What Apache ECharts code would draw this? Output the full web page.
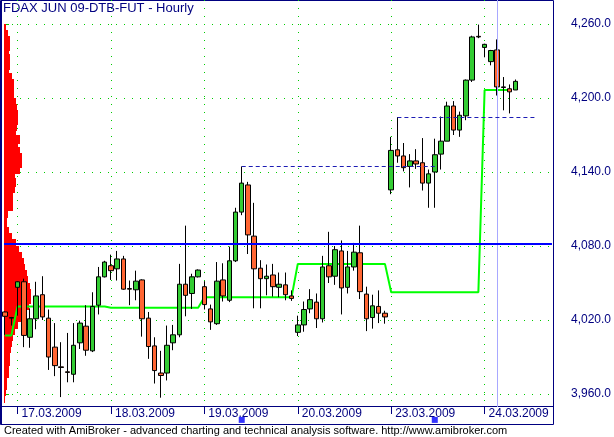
<!DOCTYPE html>
<html>
<head>
<meta charset="utf-8">
<title>FDAX JUN 09-DTB-FUT - Hourly</title>
<script src="https://cdn.jsdelivr.net/npm/echarts@6/dist/echarts.min.js"></script>
<style>
  html, body { margin: 0; padding: 0; background: #fff; }
  #chart { width: 614px; height: 437px; }
</style>
</head>
<body>
<div id="chart"></div>
<script>
// trading sessions: day, first hour, last hour (24.03 padded with the empty hours)
const sessions = [
  ["16.03.2009", 21, 22],
  ["17.03.2009", 8, 22],
  ["18.03.2009", 8, 22],
  ["19.03.2009", 8, 22],
  ["20.03.2009", 8, 22],
  ["23.03.2009", 8, 22],
  ["24.03.2009", 8, 19]
];
const categories = [];
sessions.forEach(([day, from, to]) => {
  for (let h = from; h <= to; h++) categories.push(day + " " + String(h).padStart(2, "0") + ":00");
});

// hourly bars
const open = [4026.5, 4022, 4046.5, 4051, 4006, 4021, 4040.5, 4021.5, 3998, 3982, 3978, 3976, 4001.5, 4015, 3995, 4032, 4055,
  4064, 4061.5, 4069.5, 4045.5, 4044.5, 4052.5, 4021.5, 3999, 3977, 3977, 4001.5, 4008, 4049, 4041.5, 4055,
  4047, 4029, 4017, 4052.5, 4036, 4068, 4107.5, 4129.5, 4088, 4062, 4053.5, 4056.5, 4046.5, 4048.5, 4039.5,
  4010, 4016, 4029, 4034.5, 4021, 4064, 4055.5, 4076, 4046.5, 4063, 4074.5, 4041, 4022, 4031, 4025.5,
  4125.5, 4158, 4153, 4144.5, 4149, 4147.5, 4131, 4140, 4154.5, 4165, 4193.5, 4174, 4185.5, 4214.5, 4250,
  4241, 4229.5, 4239, 4209, 4207.5, 4206.5];
const high = [4027, 4022.5, 4051.5, 4053.5, 4029.5, 4051, 4055.5, 4028.5, 4017.5, 4002, 4009.5, 4017.5, 4019.5, 4032, 4042.5, 4063, 4068,
  4073, 4076, 4072, 4052, 4060, 4053, 4026.5, 4006, 3995, 4015.5, 4016, 4065.5, 4096.5, 4057.5, 4061,
  4051.5, 4032.5, 4067, 4066, 4079.5, 4111, 4144.5, 4132, 4115, 4068.5, 4065, 4065.5, 4058.5, 4058.5, 4044,
  4023.5, 4035, 4045, 4041.5, 4072, 4091.5, 4080, 4084.5, 4076, 4082.5, 4096.5, 4047, 4040.5, 4044, 4027.5,
  4168.5, 4184.5, 4163.5, 4154.5, 4158.5, 4167.5, 4142, 4167, 4185, 4197, 4197.5, 4189, 4215, 4250.5, 4259.5,
  4244, 4239, 4247.5, 4217, 4211, 4215];
const low = [4008, 4015.5, 4023.5, 3998, 3997.5, 4012.5, 4020, 3979.5, 3974.5, 3957.5, 3969.5, 3969.5, 3996.5, 3991, 3994, 4024.5, 4054.5,
  4052.5, 4052, 4044.5, 4032, 4036, 4006.5, 3988.5, 3968.5, 3957, 3971, 3995.5, 4006, 4023, 4029, 4054.5,
  4028.5, 4012, 4016, 4035, 4034.5, 4067, 4105, 4073.5, 4029.5, 4029.5, 4040, 4039, 4038.5, 4036, 4035.5,
  4007, 4010.5, 4025.5, 4013.5, 4018, 4050, 4048.5, 4024.5, 4041.5, 4060, 4037, 4011, 4013, 4017.5, 4017,
  4122, 4147.5, 4140.5, 4127.5, 4142.5, 4125, 4111, 4111, 4142, 4165, 4170, 4168.5, 4182, 4213, 4248.5,
  4233, 4226.5, 4202, 4190, 4187.5, 4206.5];
const close = [4023, 4021.5, 4051, 4007.5, 4021, 4039.5, 4022.5, 3990, 3983, 3981.5, 3977.5, 3999.5, 4017.5, 3995.5, 4031, 4055, 4067,
  4060, 4069.5, 4045, 4045, 4051.5, 4021, 3998.5, 3979, 3975, 3999.5, 4008, 4049, 4040, 4055, 4060.5,
  4032.5, 4018.5, 4051.5, 4039.5, 4068, 4107.5, 4131, 4089, 4061.5, 4053.5, 4055.5, 4047, 4049, 4040.5, 4037.5,
  4016, 4028.5, 4036.5, 4021, 4063, 4055, 4077, 4046, 4063, 4075, 4043, 4021, 4031.5, 4025.5, 4022.5,
  4157.5, 4153, 4143.5, 4149, 4146.5, 4131, 4138.5, 4154, 4165, 4193.5, 4174, 4186, 4214.5, 4249.5, 4249.5,
  4243.5, 4238.5, 4209, 4208.5, 4205, 4213.5];

// green daily level line
const dailyLevel = [4007.5, 4007.5,
  4031, 4031, 4031, 4031, 4031, 4031, 4031, 4031, 4031, 4031, 4031, 4031, 4031, 4031, 4031,
  4030, 4030, 4030, 4030, 4030, 4030, 4030, 4030, 4030, 4030, 4030, 4030, 4030, 4030, 4030,
  4038.5, 4038.5, 4038.5, 4038.5, 4038.5, 4038.5, 4038.5, 4038.5, 4038.5, 4038.5, 4038.5, 4038.5, 4038.5, 4038.5, 4038.5,
  4065.5, 4065.5, 4065.5, 4065.5, 4065.5, 4065.5, 4065.5, 4065.5, 4065.5, 4065.5, 4065.5, 4065.5, 4065.5, 4065.5, 4065.5,
  4042.5, 4042.5, 4042.5, 4042.5, 4042.5, 4042.5, 4042.5, 4042.5, 4042.5, 4042.5, 4042.5, 4042.5, 4042.5, 4042.5, 4042.5,
  4206.5, 4206.5, 4206.5, 4206.5, 4206.5, null];

// volume at price (bin bottom price, relative volume)
const profileLevel = [4255, 4250, 4245, 4240, 4235, 4230, 4225, 4220, 4215, 4210, 4205, 4200, 4195, 4190, 4185, 4180,
  4175, 4170, 4165, 4160, 4155, 4150, 4145, 4140, 4135, 4130, 4125, 4120, 4115, 4110, 4105, 4100, 4095, 4090,
  4085, 4080, 4075, 4070, 4065, 4060, 4055, 4050, 4045, 4040, 4035, 4030, 4025, 4020, 4015, 4010, 4005, 4000,
  3995, 3990, 3985, 3980, 3975, 3970, 3965, 3960, 3955];
const profileVolume = [2, 4, 6, 6, 5.5, 6.5, 6.5, 5, 8.5, 10, 10, 10, 12.5, 13.5, 14, 14.5,
  13.5, 12.5, 16, 14, 16, 18, 18, 16, 11, 12, 11, 9.5, 9.5, 9.5, 4, 3, 3.5, 5.5,
  8, 12, 15.5, 18, 20, 21.5, 23, 24.5, 26, 27.5, 27, 25, 22, 19, 14, 11, 9, 8,
  7, 6.5, 6, 5.5, 5, 3.5, 3, 2.5, 1.5];

// dashed high lines and the selection markers
const dashedFrom = [38, 63];
const dashedTo = [69, 85];
const dashedPrice = [4144.5, 4184.5];
const markerBars = [38, 69];
const markerPrice = 3939;
const blueLevel = 4081.5;
const selectedBar = 79;
const lastPrice = close[close.length - 1];

const navy = "#000080";
const dotGreen = "#00cc00";
const font = "Liberation Sans, Arial, sans-serif";

const fmt = v => v.toFixed(1).replace(/\B(?=(\d{3})+(?!\d))/g, ",");
const isDayStart = (index, value) => value.endsWith(" 08:00");

// price scale: 4260 at y=24, 3960 at y=394, candle grid covers y 0..407
const pxPerPoint = 370 / 300;
const priceMax = 4260 + 24 / pxPerPoint;
const priceMin = 3960 - 13 / pxPerPoint;

const chart = echarts.init(document.getElementById("chart"));
const profileStep = profileLevel[0] - profileLevel[1];

const option = {
  animation: false,
  backgroundColor: "#fff",
  title: [
    {
      text: "FDAX JUN 09-DTB-FUT - Hourly", left: 3, top: 2, padding: 0,
      textStyle: { color: navy, fontSize: 13, fontWeight: "normal", fontFamily: font }
    },
    {
      text: "Created with AmiBroker - advanced charting and technical analysis software. http://www.amibroker.com",
      left: 4, top: 425, padding: 0,
      textStyle: { color: "#000", fontSize: 11, fontWeight: "normal", fontFamily: font }
    }
  ],
  grid: [
    { left: 5.1, top: 0, width: 548, height: 407 },
    { left: 4, top: 24, width: 549, height: 370 }
  ],
  xAxis: [
    {
      type: "category", gridIndex: 0, data: categories, boundaryGap: false,
      axisLine: { show: false },
      axisTick: { show: true, length: 7, interval: isDayStart, lineStyle: { color: navy } },
      axisLabel: {
        interval: isDayStart, formatter: v => v.split(" ")[0], align: "left",
        padding: [0, 0, 0, 4], margin: 1, color: navy, fontSize: 12, fontFamily: font
      },
      splitLine: { show: true, interval: isDayStart, lineStyle: { color: dotGreen, type: [1, 7] } }
    },
    { type: "value", gridIndex: 1, min: 0, max: 549, show: false }
  ],
  yAxis: [
    { type: "value", gridIndex: 0, min: priceMin, max: priceMax, show: false },
    {
      type: "value", gridIndex: 1, position: "right", min: 3960, max: 4260, interval: 60,
      axisLine: { show: false },
      axisTick: { show: true, length: 5, lineStyle: { color: dotGreen } },
      axisLabel: { margin: 19, color: navy, fontSize: 12, fontFamily: font, formatter: fmt },
      splitLine: { show: true, lineStyle: { color: dotGreen, type: [1, 7] } }
    }
  ],
  series: [
    {
      // volume profile, one red band per price bin
      type: "custom", xAxisIndex: 1, yAxisIndex: 1, z: 1, silent: true,
      data: profileLevel.map((p, i) => [profileVolume[i], p]),
      renderItem: (params, api) => {
        const a = api.coord([0, api.value(1) + profileStep]);
        const b = api.coord([api.value(0), api.value(1)]);
        const top = Math.floor(a[1]);
        const left = Math.round(a[0]);
        return {
          type: "rect",
          shape: { x: left, y: top, width: Math.round(b[0]) - left, height: Math.ceil(b[1]) - top + 2 },
          style: { fill: "#ff0000" }
        };
      }
    },
    {
      type: "line", xAxisIndex: 0, yAxisIndex: 0, z: 2,
      data: dailyLevel, showSymbol: false, symbol: "none",
      lineStyle: { color: "#00ff00", width: 2 },
      markLine: {
        silent: true, symbol: ["none", "none"], label: { show: false },
        lineStyle: { color: "#a8a8ff", width: 1, type: "solid" },
        data: [{ xAxis: categories[selectedBar] }]
      }
    },
    {
      type: "candlestick", xAxisIndex: 0, yAxisIndex: 0, z: 3, barWidth: 5,
      data: open.map((o, i) => [o, close[i], low[i], high[i]]),
      itemStyle: {
        color: "#33cc33", color0: "#ff6633",
        borderColor: "#000", borderColor0: "#000", borderColorDoji: "#000", borderWidth: 1
      },
      markLine: {
        silent: true, symbol: ["none", "none"],
        lineStyle: { opacity: 0 },
        label: {
          position: "end", distance: 2, formatter: () => fmt(lastPrice),
          backgroundColor: "#000", color: "#fff", padding: [2, 2, 1, 2], lineHeight: 12,
          fontSize: 12, fontFamily: font
        },
        data: [{ yAxis: lastPrice }]
      }
    },
    {
      type: "line", xAxisIndex: 0, yAxisIndex: 0, z: 4, data: [],
      markLine: {
        silent: true, symbol: ["none", "none"], label: { show: false },
        lineStyle: { color: "#1c1cb4", width: 1, type: [4, 3] },
        data: dashedFrom.map((f, i) => [
          { coord: [categories[f], dashedPrice[i]] },
          { coord: [categories[dashedTo[i]], dashedPrice[i]] }
        ])
      }
    },
    {
      type: "line", xAxisIndex: 1, yAxisIndex: 1, z: 5, data: [],
      markLine: {
        silent: true, symbol: ["none", "none"], label: { show: false },
        lineStyle: { color: "#0000ff", width: 2, type: "solid" },
        data: [{ yAxis: blueLevel }]
      }
    },
    {
      type: "scatter", xAxisIndex: 0, yAxisIndex: 0, z: 6, clip: false, silent: true,
      symbol: "rect", symbolSize: 6, itemStyle: { color: "#0000ff" },
      data: markerBars.map(b => [categories[b], markerPrice])
    }
  ],
  graphic: [
    { type: "rect", silent: true, shape: { x: 0.5, y: 0.5, width: 553, height: 424 }, style: { fill: null, stroke: navy, lineWidth: 1 } },
    { type: "line", silent: true, shape: { x1: 1.5, y1: 0, x2: 1.5, y2: 425 }, style: { stroke: navy, lineWidth: 1 } },
    { type: "line", silent: true, shape: { x1: 0, y1: 406.5, x2: 554, y2: 406.5 }, style: { stroke: navy, lineWidth: 1 } }
  ]
};

chart.setOption(option);
</script>
</body>
</html>
